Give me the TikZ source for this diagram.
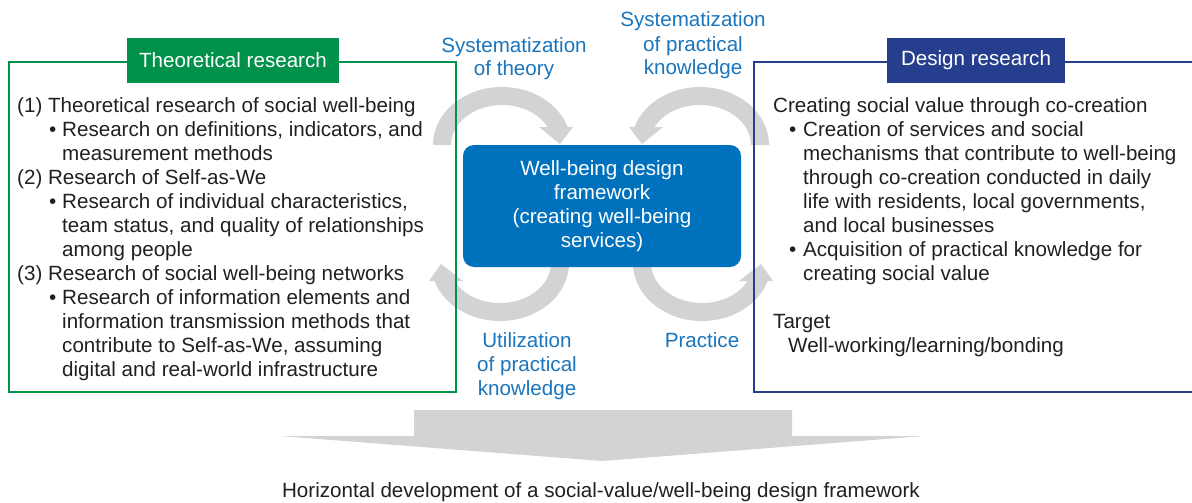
\documentclass[tikz,border=0pt]{standalone}
\usepackage{fontspec}
\setmainfont{Liberation Sans}
\definecolor{tgreen}{HTML}{00924A}
\definecolor{dnavy}{HTML}{263E8E}
\definecolor{cblue}{HTML}{0071BC}
\definecolor{lblue}{HTML}{1A75BC}
\definecolor{agray}{HTML}{D1D3D4}
\definecolor{ink}{HTML}{231F20}
\newcommand{\bodyfont}{\fontsize{20.6}{24}\selectfont}
\newcommand{\lbul}{\makebox[45pt][l]{\hspace*{32pt}\textbullet}}
\newcommand{\lind}{\hspace*{45pt}}
\newcommand{\rbul}{\makebox[30pt][l]{\hspace*{16pt}\textbullet}}
\newcommand{\rind}{\hspace*{30pt}}
\tikzset{
  txt/.style={inner sep=0pt, font=\bodyfont, text=ink, align=left},
  bluelbl/.style={inner sep=0pt, font=\bodyfont, text=lblue, align=center},
  cyc/.style={fill=agray, draw=none},
  tag/.style={inner sep=0pt, font=\bodyfont, text=white, minimum height=45pt},
  frame/.style={line width=2pt}
}
\begin{document}
\begin{tikzpicture}[x=1pt,y=1pt]
\useasboundingbox (0,0) rectangle (1192,-503);
\clip (0,0) rectangle (1192,-503);

% cycle arrows
\path[cyc] (433,-145) arc[start angle=180, end angle=18.1, x radius=69, y radius=58]
  -- (573,-127) -- (560,-144) -- (539,-127) -- (547.6,-127)
  arc[start angle=26.7, end angle=180, x radius=51, y radius=40] -- cycle;
\path[cyc] (769,-145) arc[start angle=0, end angle=161.9, x radius=69, y radius=58]
  -- (629,-127) -- (642,-144) -- (663,-127) -- (654.4,-127)
  arc[start angle=153.3, end angle=0, x radius=51, y radius=40] -- cycle;
\path[cyc] (569,-263) arc[start angle=0, end angle=-161.9, x radius=69, y radius=58]
  -- (429,-281) -- (441,-264) -- (463,-281) -- (454.4,-281)
  arc[start angle=-153.3, end angle=0, x radius=51, y radius=40] -- cycle;
\path[cyc] (633,-263) arc[start angle=180, end angle=341.9, x radius=69, y radius=58]
  -- (773,-281) -- (761,-264) -- (739,-281) -- (747.6,-281)
  arc[start angle=-26.7, end angle=-180, x radius=51, y radius=40] -- cycle;

% frames
\draw[frame, draw=tgreen] (9,-62) rectangle (456,-392);
\draw[frame, draw=dnavy] (754,-62) rectangle (1210,-392);

% tags
\node[tag, fill=tgreen, minimum width=212pt] (ttag) at (233,-60.5) {\raisebox{-2pt}{Theoretical research}};
\node[tag, fill=dnavy, minimum width=178pt] (dtag) at (976,-60.5) {\raisebox{-2pt}{Design research}};

% center box
\node[rounded corners=11pt, fill=cblue, minimum width=278pt, minimum height=122pt,
      inner sep=0pt, font=\bodyfont, text=white, align=center] (core) at (602,-206)
  {Well-being design\\framework\\(creating well-being\\services)};

% left text (anchor = baseline of last line)
\node[txt, anchor=base west] (ltext) at (17,-376) {%
(1) Theoretical research of social well-being\\
\lbul Research on definitions, indicators, and\\
\lind measurement methods\\
(2) Research of Self-as-We\\
\lbul Research of individual characteristics,\\
\lind team status, and quality of relationships\\
\lind among people\\
(3) Research of social well-being networks\\
\lbul Research of information elements and\\
\lind information transmission methods that\\
\lind contribute to Self-as-We, assuming\\
\lind digital and real-world infrastructure};

% right text
\node[txt, anchor=base west] (rtext) at (773,-352) {%
Creating social value through co-creation\\
\rbul Creation of services and social\\
\rind mechanisms that contribute to well-being\\
\rind through co-creation conducted in daily\\
\rind life with residents, local governments,\\
\rind and local businesses\\
\rbul Acquisition of practical knowledge for\\
\rind creating social value\\[24pt]
Target\\
\hspace*{15pt}Well-working/learning/bonding};

% blue labels
\node[bluelbl, anchor=base] (l1) at (514,-76) {Systematization\\of theory};
\node[bluelbl, anchor=base] (l2) at (693,-75) {Systematization\\of practical\\knowledge};
\node[bluelbl, anchor=base] (l3) at (527,-395) {Utilization\\of practical\\knowledge};
\node[bluelbl, anchor=base] (l4) at (702,-347) {Practice};

% big arrow
\path[fill=agray] (414,-410) -- (792,-410) -- (792,-436) -- (924,-436) -- (602,-461)
  -- (280,-436) -- (414,-436) -- cycle;
\node[txt, anchor=base] (bottom) at (601,-497)
  {Horizontal development of a social-value/well-being design framework};
\end{tikzpicture}
\end{document}
